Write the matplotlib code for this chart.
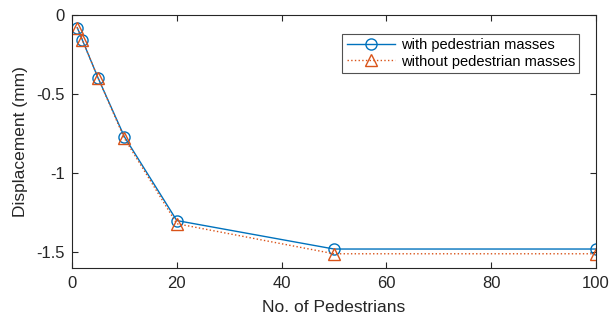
import matplotlib
matplotlib.use("Agg")
import matplotlib.pyplot as plt

pedestrians = [1, 2, 5, 10, 20, 50, 100]
disp_with = [-0.08, -0.16, -0.40, -0.77, -1.30, -1.48, -1.48]
disp_without = [-0.08, -0.16, -0.40, -0.78, -1.32, -1.51, -1.51]
x_ticks = [0, 20, 40, 60, 80, 100]
y_ticks = [0, -0.5, -1, -1.5]
y_tick_labels = ["0", "-0.5", "-1", "-1.5"]

plt.rcParams["font.family"] = ["Liberation Sans", "DejaVu Sans"]

blue = (0.0, 0.447, 0.741)
orange = (0.85, 0.325, 0.098)
axis_col = (0.15, 0.15, 0.15)

fig = plt.figure(figsize=(6.16, 3.2), dpi=100)
ax = fig.add_axes([72 / 616, 1 - 268 / 320, (596 - 72) / 616, (268 - 15) / 320])

ax.plot(pedestrians, disp_with, "-", color=blue, lw=1.0, marker="o",
        ms=8, mfc="none", mec=blue, mew=1.0, label="with pedestrian masses")
ax.plot(pedestrians, disp_without, ":", color=orange, lw=1.0, marker="^",
        ms=8, mfc="none", mec=orange, mew=1.0, label="without pedestrian masses")

ax.set_xlim(0, 100)
ax.set_ylim(-1.6, 0)
ax.set_xticks(x_ticks)
ax.set_yticks(y_ticks)
ax.set_yticklabels(y_tick_labels)
ax.tick_params(direction="in", top=True, right=True, length=4, width=0.8,
               colors=axis_col, labelsize=12, pad=6)
ax.tick_params(axis="y", pad=5)
for sp in ax.spines.values():
    sp.set_color(axis_col)
    sp.set_linewidth(0.8)

ax.set_xlabel("No. of Pedestrians", fontsize=12.5, color=axis_col, labelpad=6)
ax.set_ylabel("Displacement (mm)", fontsize=12.5, color=axis_col, labelpad=6)

leg = ax.legend(loc="upper right", bbox_to_anchor=(0.968, 0.925), fontsize=10.5,
                frameon=True, fancybox=False, edgecolor=axis_col,
                handlelength=3.3, borderpad=0.3, labelspacing=0.15,
                handletextpad=0.4, borderaxespad=0)
leg.get_frame().set_linewidth(0.8)

fig.savefig("out.png", dpi=100)
